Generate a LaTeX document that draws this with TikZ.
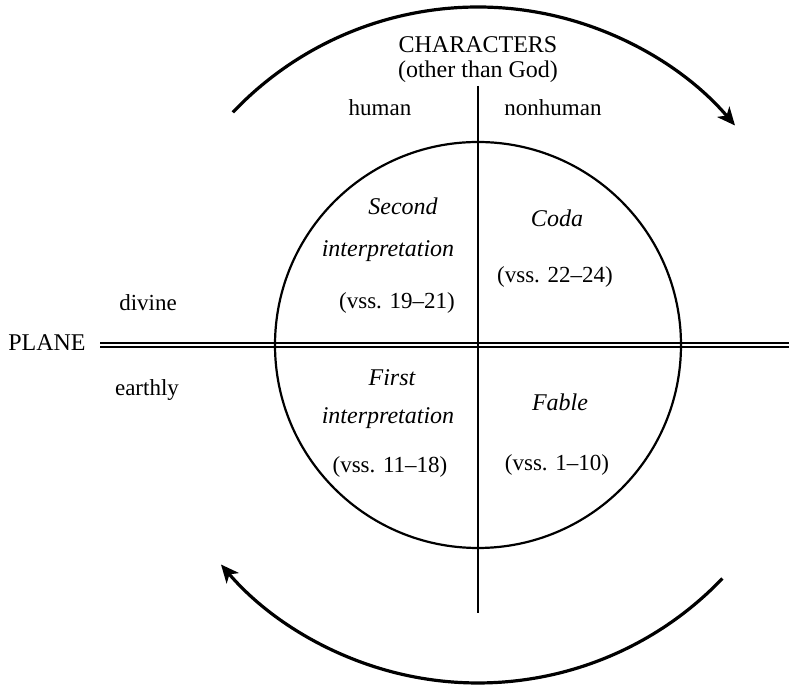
\documentclass[tikz,border=0pt]{standalone}
\usepackage{fontspec}
\setmainfont{Liberation Serif}
\usetikzlibrary{arrows.meta}

\begin{document}
\begin{tikzpicture}[x=0.5pt, y=0.5pt]
    \tikzstyle{axis text}=[
        font = \fontsize{11.5}{13}\selectfont,
        inner sep = 0pt
    ]
    \tikzstyle{head text}=[
        font = \fontsize{12}{14}\selectfont,
        inner sep = 0pt
    ]
    \tikzstyle{part text}=[
        font = \fontsize{12}{14}\selectfont\itshape,
        inner sep = 0pt
    ]
    \tikzstyle{cycle arrow}=[
        line width = 1.6pt,
        -{Stealth[length=9pt, width=8pt, inset=2.5pt]}
    ]

    \useasboundingbox (0,0) rectangle (789,685);

    % centre, axes and the ends of the two arrows
    \coordinate (o)  at (478, 340);
    \coordinate (vt) at (478, 599);
    \coordinate (vb) at (478, 72);
    \coordinate (hl) at (100, 340);
    \coordinate (hr) at (789, 340);
    \coordinate (ts) at ([shift={(136.5:338)}]o);
    \coordinate (bs) at ([shift={(-43.7:338)}]o);

	\node[head text]  (chars)   at (478, 640) {CHARACTERS};
	\node[head text]  (other)   at (478, 613) {(other than God)};
	\node[axis text]  (human)   at (380, 577) {human};
	\node[axis text]  (nonhum)  at (553, 577) {nonhuman};
	\node[axis text]  (divine)  at (148, 382) {divine};
	\node[axis text]  (earthly) at (147, 295) {earthly};
	\node[head text]  (plane)   at (47, 342)  {PLANE};

	\node[part text]  (second)  at (403, 479) {Second};
	\node[part text]  (interb)  at (388, 434) {interpretation};
	\node[axis text]  (vssb)    at (397, 382) {(vss. 19--21)};
	\node[part text]  (coda)    at (557, 467) {Coda};
	\node[axis text]  (vssc)    at (555, 408) {(vss. 22--24)};
	\node[part text]  (first)   at (392, 307) {First};
	\node[part text]  (intera)  at (388, 267) {interpretation};
	\node[axis text]  (vssa)    at (390, 218) {(vss. 11--18)};
	\node[part text]  (fable)   at (560, 283) {Fable};
	\node[axis text]  (vssf)    at (557, 220) {(vss. 1--10)};

	\draw[double, line width=1.1pt, double distance=1.1pt] (hl) -- (hr);
	\draw[line width=1.1pt] (o) circle[radius=203];
	\draw[line width=1.1pt] (vt) -- (vb);

	\draw[cycle arrow] (ts) arc[start angle=136.5, end angle=40.5, radius=338];
	\draw[cycle arrow] (bs) arc[start angle=-43.7, end angle=-139.5, radius=338];

\end{tikzpicture}
\end{document}
